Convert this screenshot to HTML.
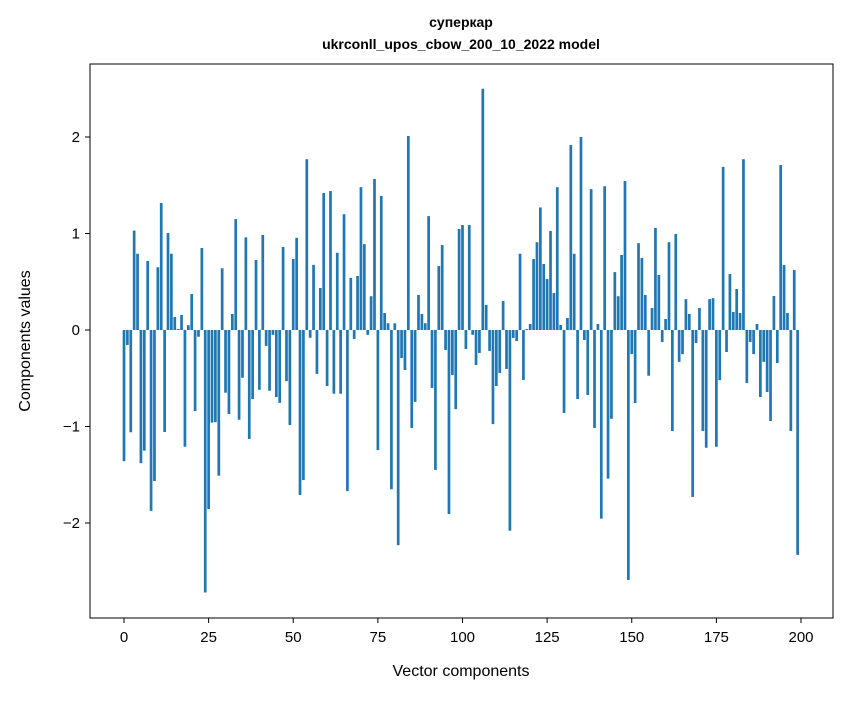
<!DOCTYPE html>
<html><head><meta charset="utf-8"><style>
body{margin:0;background:#fff;}
svg text{font-family:"Liberation Sans","DejaVu Sans",sans-serif;fill:#000;}
</style></head><body>
<svg id="chart" width="847" height="696" xmlns="http://www.w3.org/2000/svg">
<rect width="847" height="696" fill="#fff"/>
<text x="461" y="27" text-anchor="middle" font-size="14" font-weight="bold">суперкар</text>
<text x="461" y="49" text-anchor="middle" font-size="14" font-weight="bold">ukrconll_upos_cbow_200_10_2022 model</text>
<g id="bars"></g>
<g id="axes"></g>
<rect x="90" y="64" width="743" height="554" fill="none" stroke="#000" stroke-width="1"/>
<text x="461" y="676" text-anchor="middle" font-size="16">Vector components</text>
<text x="30" y="341" text-anchor="middle" font-size="16" transform="rotate(-90 30 341)">Components values</text>
</svg>
<script>
const values = [
-1.36,-0.155,-1.06,1.03,0.79,-1.38,-1.25,0.715,-1.875,-1.565,
0.65,1.316,-1.057,1.005,0.79,0.135,0.01,0.155,-1.21,0.05,
0.373,-0.84,-0.07,0.85,-2.72,-1.855,-0.96,-0.955,-1.51,0.64,
-0.65,-0.87,0.166,1.15,-0.93,-0.495,0.96,-1.13,-0.715,0.725,
-0.62,0.985,-0.165,-0.63,-0.05,-0.695,-0.755,0.86,-0.53,-0.985,
0.735,0.955,-1.71,-1.555,1.77,-0.08,0.675,-0.455,0.435,1.42,
-0.58,1.44,-0.66,0.80,-0.66,1.20,-1.67,0.54,-0.093,0.56,
1.48,0.89,-0.05,0.35,1.565,-1.245,1.39,0.176,0.07,-1.65,
0.07,-2.23,-0.29,-0.415,2.01,-1.015,-0.745,0.363,0.166,0.07,
1.18,-0.60,-1.45,0.663,0.88,-0.207,-1.907,-0.466,-0.82,1.047,
1.088,-0.197,1.088,-0.05,-0.363,-0.238,2.50,0.26,-0.217,-0.975,
-0.58,-0.445,0.30,-0.404,-2.08,-0.083,-0.114,0.79,-0.518,0.01,
0.062,0.735,0.91,1.27,0.684,0.528,1.026,0.383,1.48,0.052,
-0.86,0.124,1.917,0.79,-0.715,2.0,-0.104,-0.674,1.46,-1.015,
0.062,-1.955,1.49,-1.54,-0.92,0.60,0.35,0.777,1.544,-2.59,
-0.25,-0.757,0.90,0.746,0.363,-0.474,0.228,1.057,0.57,-0.124,
0.114,0.91,-1.047,0.995,-0.33,-0.25,0.32,0.166,-1.73,-0.135,
0.228,-1.047,-1.22,0.32,0.33,-1.21,-0.52,1.69,-0.228,0.58,
0.187,0.425,0.176,1.77,-0.55,-0.124,-0.25,0.062,-0.694,-0.33,
-0.643,-0.943,0.352,-0.342,1.71,0.674,0.176,-1.047,0.622,-2.33
];
const xTicks = [0,25,50,75,100,125,150,175,200];
const yTicks = [-2,-1,0,1,2];
const yTickLabels = ["\u22122","\u22121","0","1","2"];

const X0=124, XS=3.385, Y0=330, YS=96.5;
const xs = v => X0 + v*XS;
const ys = v => Y0 - v*YS;
const NS="http://www.w3.org/2000/svg";
const bars=document.getElementById('bars');
values.forEach((v,i)=>{
  const r=document.createElementNS(NS,'rect');
  const y1=ys(Math.max(v,0)), y2=ys(Math.min(v,0));
  r.setAttribute('x',xs(i-0.4));
  r.setAttribute('width',0.8*XS);
  r.setAttribute('y',y1);
  r.setAttribute('height',Math.max(y2-y1,0.01));
  r.setAttribute('fill','#1f77b4');
  
  
  bars.appendChild(r);
});
const axes=document.getElementById('axes');
xTicks.forEach(t=>{
  const l=document.createElementNS(NS,'line');
  l.setAttribute('x1',xs(t));l.setAttribute('x2',xs(t));
  l.setAttribute('y1',618);l.setAttribute('y2',623);
  l.setAttribute('stroke','#000');
  
  
  axes.appendChild(l);
  const tx=document.createElementNS(NS,'text');
  tx.setAttribute('x',xs(t));tx.setAttribute('y',642);
  tx.setAttribute('text-anchor','middle');tx.setAttribute('font-size','15');
  tx.textContent=t;
  
  
  axes.appendChild(tx);
});
yTicks.forEach((t,i)=>{
  const l=document.createElementNS(NS,'line');
  l.setAttribute('x1',85);l.setAttribute('x2',90);
  l.setAttribute('y1',ys(t));l.setAttribute('y2',ys(t));
  l.setAttribute('stroke','#000');
  
  
  axes.appendChild(l);
  const tx=document.createElementNS(NS,'text');
  tx.setAttribute('x',80);tx.setAttribute('y',ys(t)+5);
  tx.setAttribute('text-anchor','end');tx.setAttribute('font-size','15');
  tx.textContent=yTickLabels[i];
  
  
  axes.appendChild(tx);
});
</script>
</body></html>
